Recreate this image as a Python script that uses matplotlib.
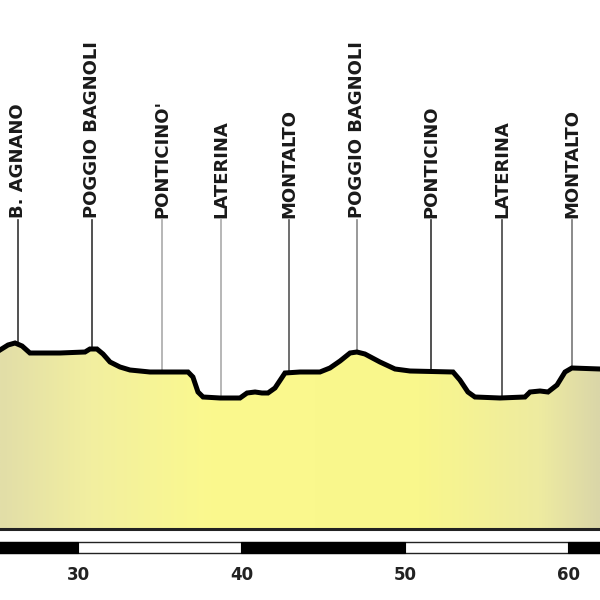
import numpy as np
import matplotlib
matplotlib.use("Agg")
from matplotlib import pyplot as plt
from matplotlib.colors import LinearSegmentedColormap
from matplotlib.patches import Polygon, Rectangle

# profile: distance (km) and elevation (m)
km = [25.23, 25.72, 26.15, 26.58, 27.06, 28.90, 30.43, 30.73, 31.16, 31.53,
      31.96, 32.57, 33.18, 34.40, 35.32, 36.73, 37.03, 37.34, 37.65, 38.69,
      39.91, 40.34, 40.83, 41.25, 41.62, 42.05, 42.66, 43.58, 44.80, 45.41,
      46.03, 46.64, 47.06, 47.55, 48.47, 49.39, 50.31, 52.94, 53.36, 53.85,
      54.28, 55.81, 57.34, 57.65, 58.26, 58.75, 59.30, 59.79, 60.21, 61.93]
elev = [279, 284, 286, 283, 276, 276, 277, 280, 280, 275,
        267, 262, 259, 257, 257, 257, 252, 237, 232, 231,
        231, 236, 237, 236, 236, 241, 256, 257, 257, 261,
        268, 276, 277, 275, 267, 260, 258, 257, 249, 237,
        232, 231, 232, 237, 238, 237, 244, 257, 261, 260]

places = ["B. AGNANO", "POGGIO BAGNOLI", "PONTICINO'", "LATERINA", "MONTALTO",
          "POGGIO BAGNOLI", "PONTICINO", "LATERINA", "MONTALTO"]
place_km = [26.33, 30.86, 35.14, 38.75, 42.91, 47.06, 51.59, 55.93, 60.21]
place_line_colors = ["#333333", "#333333", "#aaaaaa", "#aaaaaa", "#555555",
                     "#888888", "#333333", "#444444", "#777777"]

tick_km = [30, 40, 50, 60]
black_segments = [(20, 30), (40, 50), (60, 70)]

x_min, x_max = 25.23, 61.93
y_min, y_max = 29, 629
base = 100
label_base = 411
bar_low, bar_high = 76, 87
tick_y = 54

fig = plt.figure(figsize=(6, 6), dpi=100)
ax = fig.add_axes([0, 0, 1, 1])
ax.set_xlim(x_min, x_max)
ax.set_ylim(y_min, y_max)
ax.axis("off")

# gradient fill under the profile
cmap = LinearSegmentedColormap.from_list(
    "prof",
    [(0.0, "#e2dea8"), (0.15, "#f2efa0"), (0.35, "#fbf98e"),
     (0.7, "#f9f78c"), (0.9, "#eeeba0"), (1.0, "#dad6a8")])
grad = np.linspace(0, 1, 256).reshape(1, -1)
poly_xy = np.column_stack([np.r_[km, km[-1], km[0]], np.r_[elev, base, base]])
clip = Polygon(poly_xy, closed=True, facecolor="none", edgecolor="none")
ax.add_patch(clip)
im = ax.imshow(grad, cmap=cmap, aspect="auto",
               extent=(x_min, x_max, base, max(elev)), zorder=1)
im.set_clip_path(clip)

# profile line and baseline
ax.plot(km, elev, color="black", linewidth=3.6, solid_joinstyle="miter", zorder=3)
ax.axhline(base, color="#222222", linewidth=2.2, zorder=3)

# place markers
for name, xk, c in zip(places, place_km, place_line_colors):
    y0 = np.interp(xk, km, elev)
    ax.plot([xk, xk], [y0 + 2, label_base - 2], color=c, linewidth=1.2, zorder=2)
    ax.text(xk, label_base, name, rotation=90, ha="center", va="bottom",
            fontsize=13, fontweight="bold", color="#1a1a1a",
            family=["DejaVu Sans"])

# km scale bar
ax.add_patch(Rectangle((x_min - 1, bar_low), x_max - x_min + 2, bar_high - bar_low,
                       facecolor="white", edgecolor="#222222", linewidth=1.0, zorder=2))
for a, b in black_segments:
    ax.add_patch(Rectangle((a, bar_low), b - a, bar_high - bar_low,
                           facecolor="black", edgecolor="black", linewidth=0.8, zorder=3))

for t in tick_km:
    ax.text(t, tick_y, str(t), ha="center", va="center", fontsize=12,
            fontweight="bold", color="#222222",
            family=["Liberation Sans Narrow", "DejaVu Sans"])

fig.savefig("out.png", dpi=100, facecolor="white")
